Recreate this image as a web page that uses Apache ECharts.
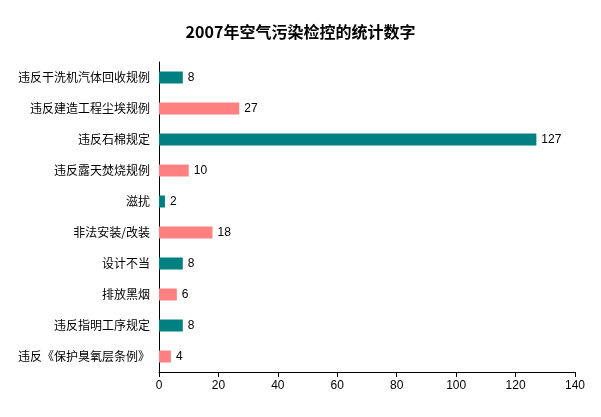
<!DOCTYPE html>
<html><head><meta charset="utf-8">
<script src="https://cdn.jsdelivr.net/npm/echarts@6/dist/echarts.min.js"></script>
<style>html,body{margin:0;padding:0;background:#fff}#c{width:601px;height:417px}</style>
</head><body><div id="c"></div>
<script>
const categories = ["违反干洗机汽体回收规例","违反建造工程尘埃规例","违反石棉规定","违反露天焚烧规例","滋扰","非法安装/改装","设计不当","排放黑烟","违反指明工序规定","违反《保护臭氧层条例》"];
const values = [8,27,127,10,2,18,8,6,8,4];
const barColors = ["#008080","#FF8080"];
const xTicks = [0,20,40,60,80,100,120,140];

const chart = echarts.init(document.getElementById('c'));
chart.setOption({
  animation:false,
  backgroundColor:'#fff',
  title:{text:'2007年空气污染检控的统计数字',left:'center',top:19,
    textStyle:{fontFamily:'"Noto Sans CJK SC"',fontSize:16,fontWeight:'bold',color:'#000'}},
  grid:{left:159,right:26,top:62,bottom:45,containLabel:false},
  xAxis:{type:'value',min:xTicks[0],max:xTicks[xTicks.length-1],interval:20,
    axisLine:{show:true,lineStyle:{color:'#000'}},
    axisTick:{show:true,length:5,lineStyle:{color:'#000'}},
    splitLine:{show:false},
    axisLabel:{color:'#000',fontSize:12,margin:8,fontFamily:'"Liberation Sans"'}},
  yAxis:{type:'category',data:categories,inverse:true,
    axisLine:{show:true,lineStyle:{color:'#000'}},
    axisTick:{show:false},
    axisLabel:{color:'#000',fontSize:12,margin:9,fontFamily:'"Noto Sans CJK SC"'}},
  series:[{type:'bar',barWidth:12,
    data:values.map((v,i)=>({value:v,itemStyle:{color:barColors[i%2]}})),
    label:{show:true,position:'right',distance:5,color:'#000',fontSize:12,fontFamily:'"Liberation Sans"'}}]
});
</script></body></html>
